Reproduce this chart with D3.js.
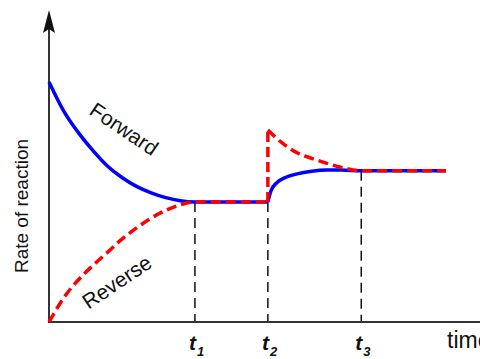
<html>

<head>
    <script src="https://cdnjs.cloudflare.com/ajax/libs/d3/7.1.1/d3.js"></script>
    <style>
        body { margin: 0; background: #fff; }
    </style>
</head>

<body>
    <script>
        // time axis: t1 = 5, t2 = 7.5, t3 = 10.7, curves end at 13.6
        const tickNames = ['t1', 't2', 't3'];
        const tickTimes = [5, 7.5, 10.7];
        const tickLevels = [5, 5, 6.3]; // where the dashed guides start

        // forward rate, before t2
        const fwdTime1 = [0, 0.5, 1, 1.5, 2, 2.5, 3, 3.5, 4, 4.5, 5, 7.5];
        const fwdRate1 = [10, 8.8, 7.9, 7.15, 6.5, 6.02, 5.65, 5.38, 5.18, 5.05, 5.0, 5.0];
        // forward rate, after t2
        const fwdTime2 = [7.5, 7.6, 7.8, 8.1, 8.5, 9, 9.5, 10, 10.7, 13.6];
        const fwdRate2 = [5.0, 5.45, 5.8, 6.02, 6.17, 6.28, 6.33, 6.33, 6.3, 6.3];

        // reverse rate, before t2
        const revTime1 = [0, 0.5, 1, 1.5, 2, 2.5, 3, 3.5, 4, 4.5, 5, 7.5];
        const revRate1 = [0, 1.0, 1.75, 2.35, 2.9, 3.45, 3.92, 4.33, 4.65, 4.88, 5.0, 5.0];
        // reverse rate jumps at t2, then decays
        const revTime2 = [7.5, 8, 8.5, 9, 9.5, 10, 10.7, 13.6];
        const revRate2 = [8.0, 7.45, 7.05, 6.82, 6.62, 6.45, 6.3, 6.3];

        const width = 480;
        const height = 359;

        const svg = d3.select('body').append('svg')
            .attr('width', width)
            .attr('height', height);

        const x = d3.scaleLinear().domain([0, 14.7]).range([49, 478]);
        const y = d3.scaleLinear().domain([0, 10]).range([322, 82]);

        const line = d3.line()
            .x(d => x(d[0]))
            .y(d => y(d[1]))
            .curve(d3.curveMonotoneX);

        const zip = (a, b) => a.map((v, i) => [v, b[i]]);

        // dashed guides from the curves down to the axis
        svg.selectAll('.guide')
            .data(tickTimes)
            .enter().append('line')
            .attr('class', 'guide')
            .attr('x1', d => x(d))
            .attr('x2', d => x(d))
            .attr('y1', (d, i) => y(tickLevels[i]))
            .attr('y2', y(0))
            .style('stroke', '#111')
            .style('stroke-width', 1.5)
            .style('stroke-dasharray', '10,6');

        // axes
        svg.append('line')
            .attr('x1', x(0)).attr('x2', 480)
            .attr('y1', y(0)).attr('y2', y(0))
            .style('stroke', '#333')
            .style('stroke-width', 2);
        svg.append('line')
            .attr('x1', x(0)).attr('x2', x(0))
            .attr('y1', y(0) + 1).attr('y2', 24)
            .style('stroke', '#333')
            .style('stroke-width', 2);
        svg.append('path')
            .attr('d', `M${x(0)},10 L${x(0) - 6},33 L${x(0)},29 L${x(0) + 6},33 Z`)
            .style('fill', '#111');

        // forward (solid blue)
        [zip(fwdTime1, fwdRate1), zip(fwdTime2, fwdRate2)].forEach(pts => {
            svg.append('path')
                .attr('d', line(pts))
                .style('fill', 'none')
                .style('stroke', '#0000ff')
                .style('stroke-width', 3.5);
        });

        // reverse (dashed red)
        [zip(revTime1, revRate1), zip(revTime2, revRate2)].forEach(pts => {
            svg.append('path')
                .attr('d', line(pts))
                .style('fill', 'none')
                .style('stroke', '#ff0000')
                .style('stroke-width', 3.5)
                .style('stroke-dasharray', '10,5');
        });
        // the jump at t2
        svg.append('line')
            .attr('x1', x(tickTimes[1])).attr('x2', x(tickTimes[1]))
            .attr('y1', y(revRate1[revRate1.length - 1]))
            .attr('y2', y(revRate2[0]))
            .style('stroke', '#ff0000')
            .style('stroke-width', 3.5)
            .style('stroke-dasharray', '10,5');

        // curve labels
        svg.append('text')
            .text('Forward')
            .attr('transform', 'translate(120,135) rotate(34)')
            .attr('text-anchor', 'middle')
            .attr('font-family', 'Liberation Sans, Arial')
            .attr('font-size', 21)
            .style('fill', '#111');
        svg.append('text')
            .text('Reverse')
            .attr('transform', 'translate(121,288) rotate(-34)')
            .attr('text-anchor', 'middle')
            .attr('font-family', 'Liberation Sans, Arial')
            .attr('font-size', 21)
            .style('fill', '#111');

        // axis titles
        svg.append('text')
            .text('Rate of reaction')
            .attr('transform', 'translate(28,206) rotate(-90)')
            .attr('text-anchor', 'middle')
            .attr('font-family', 'Liberation Sans, Arial')
            .attr('font-size', 19)
            .style('fill', '#111');
        // the reference crops this title at the right edge
        svg.append('text')
            .text('time')
            .attr('x', 447)
            .attr('y', 348)
            .attr('font-family', 'Liberation Sans, Arial')
            .attr('font-size', 23)
            .style('fill', '#111');

        // tick labels t1, t2, t3
        const tick = svg.selectAll('.tick')
            .data(tickTimes)
            .enter().append('text')
            .attr('class', 'tick')
            .attr('x', d => x(d) - 6)
            .attr('y', 350)
            .attr('font-family', 'Liberation Sans, Arial')
            .attr('font-style', 'italic')
            .attr('font-weight', 'bold')
            .style('fill', '#111');
        tick.append('tspan')
            .attr('font-size', 21)
            .text((d, i) => tickNames[i][0]);
        tick.append('tspan')
            .attr('font-size', 13)
            .attr('dy', 6)
            .attr('dx', 1)
            .text((d, i) => tickNames[i].slice(1));
    </script>
</body>

</html>
